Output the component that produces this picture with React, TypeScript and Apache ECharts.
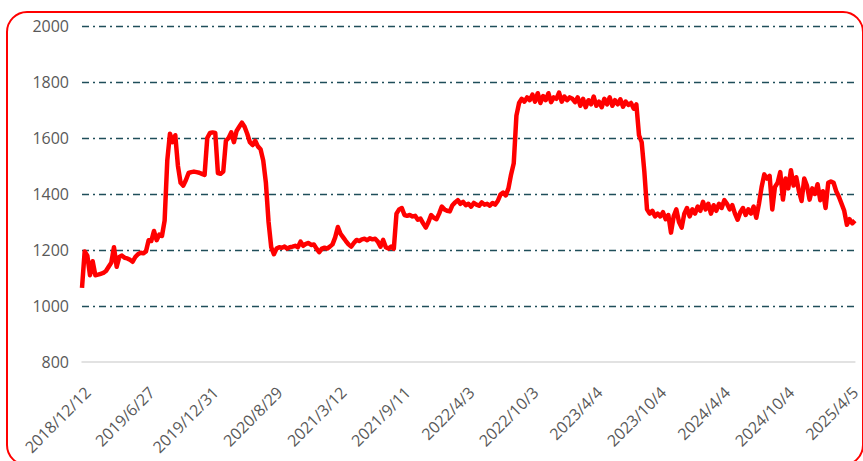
import React, { useEffect, useRef } from "react";
import * as echarts from "echarts";

// Tick labels shown every POINTS_PER_LABEL points on the category axis
const tickLabels = [
  "2018/12/12", "2019/6/27", "2019/12/31", "2020/8/29", "2021/3/12", "2021/9/11",
  "2022/4/3", "2022/10/3", "2023/4/4", "2023/10/4", "2024/4/4", "2024/10/4", "2025/4/5",
];
const POINTS_PER_LABEL = 24;

const yTicks = [800, 1000, 1200, 1400, 1600, 1800, 2000];

// Series values (sampled along the line)
const values2019 = [
  1065, 1195, 1180, 1110, 1160, 1110, 1112, 1115, 1118, 1125, 1140, 1155, 1210, 1140, 1175, 1180,
  1172, 1170, 1165, 1158, 1175, 1185, 1190, 1188, 1195, 1235, 1232, 1268, 1235, 1255, 1250, 1305,
  1520, 1615, 1585, 1610, 1500, 1440, 1430, 1450, 1475, 1478, 1480, 1478, 1476, 1472, 1468, 1600,
];
const values2020 = [
  1618, 1620, 1618, 1475, 1472, 1480, 1590, 1600, 1620, 1585, 1625, 1640, 1655, 1640, 1615, 1585,
  1575, 1590, 1570, 1560, 1520, 1440, 1300, 1210, 1185, 1205, 1210, 1208, 1212, 1205, 1210, 1212,
  1215, 1210, 1230, 1215, 1222, 1225, 1218, 1220, 1205, 1192, 1205, 1208, 1205, 1212, 1220, 1245,
];
const values2021 = [
  1282, 1258, 1245, 1232, 1220, 1212, 1225, 1236, 1232, 1238, 1240, 1235, 1242, 1238, 1240, 1230,
  1212, 1236, 1210, 1205, 1212, 1205, 1330, 1345, 1350, 1325, 1322, 1325, 1320, 1322, 1308, 1312,
  1295, 1280, 1300, 1325, 1315, 1310, 1330, 1355, 1345, 1340, 1338, 1360, 1370, 1378, 1365, 1372,
];
const values2022 = [
  1360, 1365, 1355, 1368, 1362, 1358, 1370, 1362, 1365, 1358, 1368, 1362, 1375, 1398, 1405, 1395,
  1420, 1470, 1510, 1680, 1725, 1740, 1730, 1745, 1735, 1755, 1730, 1760, 1725, 1750, 1735, 1760,
  1728, 1745, 1740, 1762, 1730, 1748, 1735, 1745, 1740, 1728, 1745, 1715, 1740, 1710, 1735, 1720,
];
const values2023 = [
  1748, 1715, 1730, 1710, 1740, 1720, 1745, 1715, 1735, 1720, 1738, 1712, 1730, 1718, 1725, 1705,
  1720, 1610, 1585, 1480, 1345, 1330, 1340, 1320, 1330, 1320, 1335, 1310, 1325, 1262, 1320, 1345,
  1300, 1280, 1330, 1350, 1320, 1345, 1330, 1355, 1340, 1372, 1345, 1365, 1330, 1360, 1340, 1365,
];
const values2024 = [
  1350, 1378, 1365, 1345, 1360, 1330, 1308, 1335, 1350, 1325, 1345, 1330, 1355, 1315, 1365, 1425,
  1470, 1455, 1465, 1345, 1425, 1440, 1478, 1380, 1455, 1420, 1485, 1430, 1460, 1410, 1375, 1455,
  1430, 1380, 1420, 1400, 1435, 1378, 1410, 1350, 1440, 1445, 1440, 1410, 1390, 1365, 1340, 1290,
];
const values2025 = [1310, 1295, 1305];

const values = [
  ...values2019, ...values2020, ...values2021, ...values2022, ...values2023, ...values2024, ...values2025,
];

const categories = values.map((_, i) =>
  i % POINTS_PER_LABEL === 0 && tickLabels[i / POINTS_PER_LABEL]
    ? tickLabels[i / POINTS_PER_LABEL]
    : "#" + i
);

const FONT = "'Open Sans', 'Noto Sans', sans-serif";
const GRID_COLOR = "#1f4e5a";

export default function App() {
  const ref = useRef<HTMLDivElement>(null);
  useEffect(() => {
    if (!ref.current) return;
    const chart = echarts.init(ref.current, null, { renderer: "svg" });
    chart.setOption({
      animation: false,
      backgroundColor: "#ffffff",
      grid: { left: 82, right: 4, top: 26, bottom: 99, containLabel: false },
      graphic: [
        {
          type: "rect",
          shape: { x: 7, y: 12, width: 856, height: 453, r: 20 },
          style: { fill: "none", stroke: "#ff0000", lineWidth: 2 },
          silent: true,
          z: 100,
        },
      ],
      xAxis: {
        type: "category",
        data: categories,
        boundaryGap: false,
        axisLine: { show: true, lineStyle: { color: "#d9d9d9", width: 1.5 } },
        axisTick: { show: false },
        splitLine: { show: false },
        axisLabel: {
          interval: (index: number) => index % POINTS_PER_LABEL === 0,
          formatter: (v: string) => (v.startsWith("#") ? "" : v),
          rotate: 45,
          margin: 22,
          verticalAlign: "top",
          color: "#595959",
          fontSize: 16,
          fontFamily: FONT,
          hideOverlap: false,
        },
      },
      yAxis: {
        type: "value",
        min: yTicks[0],
        max: yTicks[yTicks.length - 1],
        interval: 200,
        axisLine: { show: false },
        axisTick: { show: false },
        axisLabel: {
          color: "#595959",
          fontSize: 16,
          fontFamily: FONT,
          margin: 13,
          formatter: (v: number) => String(v),
        },
        splitLine: {
          show: true,
          lineStyle: {
            color: yTicks.map((_, i) => (i === 0 ? "rgba(0,0,0,0)" : GRID_COLOR)),
            width: 1.3,
            type: [7, 4, 2, 4],
          },
        },
      },
      series: [
        {
          type: "line",
          data: values,
          symbol: "none",
          lineStyle: { color: "#ff0000", width: 4.5, join: "round" },
          itemStyle: { color: "#ff0000" },
          z: 5,
        },
      ],
    });
    return () => chart.dispose();
  }, []);
  return <div ref={ref} style={{ width: 863, height: 461, position: "absolute", left: 0, top: 0 }} />;
}
